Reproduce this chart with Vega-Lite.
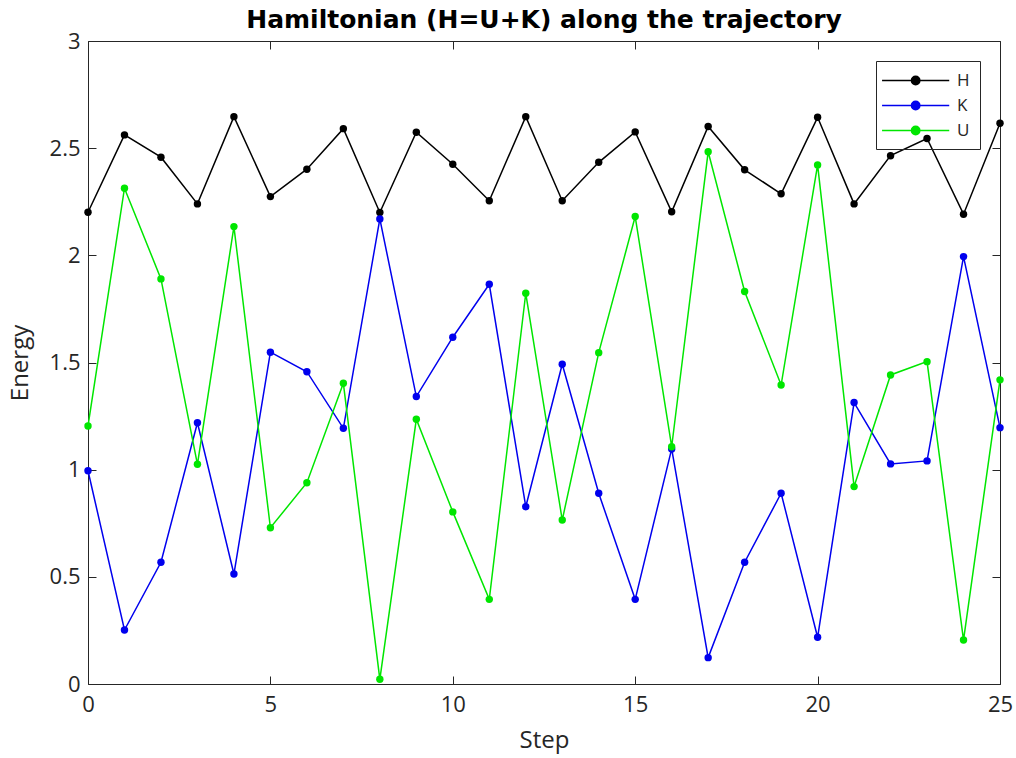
{
  "$schema": "https://vega.github.io/schema/vega-lite/v6.json",
  "width": 912,
  "height": 643,
  "autosize": "none",
  "padding": {"left": 88, "top": 41, "right": 16, "bottom": 74},
  "background": "white",
  "title": {"text": "Hamiltonian (H=U+K) along the trajectory", "font": "DejaVu Sans", "fontSize": 25, "fontWeight": "bold", "color": "#000000", "anchor": "middle", "offset": -3},
  "config": {
    "view": {"stroke": "#262626", "strokeWidth": 1},
    "axis": {"grid": false, "domain": false, "tickColor": "#262626", "tickSize": -8, "labelFlush": false, "labelFont": "Open Sans", "labelFontSize": 22, "labelColor": "#262626", "titleFont": "Open Sans", "titleFontSize": 24, "titleFontWeight": "normal", "titleColor": "#262626"}
  },
  "data": {"values": [
    {"step": 0, "series": "H", "value": 2.201}, {"step": 1, "series": "H", "value": 2.562}, {"step": 2, "series": "H", "value": 2.458}, {"step": 3, "series": "H", "value": 2.24}, {"step": 4, "series": "H", "value": 2.647}, {"step": 5, "series": "H", "value": 2.274}, {"step": 6, "series": "H", "value": 2.402}, {"step": 7, "series": "H", "value": 2.591}, {"step": 8, "series": "H", "value": 2.2}, {"step": 9, "series": "H", "value": 2.574}, {"step": 10, "series": "H", "value": 2.425}, {"step": 11, "series": "H", "value": 2.255}, {"step": 12, "series": "H", "value": 2.647}, {"step": 13, "series": "H", "value": 2.255}, {"step": 14, "series": "H", "value": 2.434}, {"step": 15, "series": "H", "value": 2.576}, {"step": 16, "series": "H", "value": 2.203}, {"step": 17, "series": "H", "value": 2.601}, {"step": 18, "series": "H", "value": 2.399}, {"step": 19, "series": "H", "value": 2.287}, {"step": 20, "series": "H", "value": 2.644}, {"step": 21, "series": "H", "value": 2.24}, {"step": 22, "series": "H", "value": 2.465}, {"step": 23, "series": "H", "value": 2.545}, {"step": 24, "series": "H", "value": 2.192}, {"step": 25, "series": "H", "value": 2.616},
    {"step": 0, "series": "K", "value": 0.995}, {"step": 1, "series": "K", "value": 0.252}, {"step": 2, "series": "K", "value": 0.568}, {"step": 3, "series": "K", "value": 1.219}, {"step": 4, "series": "K", "value": 0.513}, {"step": 5, "series": "K", "value": 1.548}, {"step": 6, "series": "K", "value": 1.457}, {"step": 7, "series": "K", "value": 1.193}, {"step": 8, "series": "K", "value": 2.17}, {"step": 9, "series": "K", "value": 1.341}, {"step": 10, "series": "K", "value": 1.618}, {"step": 11, "series": "K", "value": 1.865}, {"step": 12, "series": "K", "value": 0.827}, {"step": 13, "series": "K", "value": 1.492}, {"step": 14, "series": "K", "value": 0.89}, {"step": 15, "series": "K", "value": 0.395}, {"step": 16, "series": "K", "value": 1.097}, {"step": 17, "series": "K", "value": 0.123}, {"step": 18, "series": "K", "value": 0.568}, {"step": 19, "series": "K", "value": 0.89}, {"step": 20, "series": "K", "value": 0.218}, {"step": 21, "series": "K", "value": 1.313}, {"step": 22, "series": "K", "value": 1.027}, {"step": 23, "series": "K", "value": 1.041}, {"step": 24, "series": "K", "value": 1.994}, {"step": 25, "series": "K", "value": 1.196},
    {"step": 0, "series": "U", "value": 1.204}, {"step": 1, "series": "U", "value": 2.313}, {"step": 2, "series": "U", "value": 1.89}, {"step": 3, "series": "U", "value": 1.025}, {"step": 4, "series": "U", "value": 2.134}, {"step": 5, "series": "U", "value": 0.729}, {"step": 6, "series": "U", "value": 0.939}, {"step": 7, "series": "U", "value": 1.403}, {"step": 8, "series": "U", "value": 0.022}, {"step": 9, "series": "U", "value": 1.235}, {"step": 10, "series": "U", "value": 0.803}, {"step": 11, "series": "U", "value": 0.395}, {"step": 12, "series": "U", "value": 1.823}, {"step": 13, "series": "U", "value": 0.765}, {"step": 14, "series": "U", "value": 1.546}, {"step": 15, "series": "U", "value": 2.181}, {"step": 16, "series": "U", "value": 1.107}, {"step": 17, "series": "U", "value": 2.483}, {"step": 18, "series": "U", "value": 1.831}, {"step": 19, "series": "U", "value": 1.395}, {"step": 20, "series": "U", "value": 2.422}, {"step": 21, "series": "U", "value": 0.921}, {"step": 22, "series": "U", "value": 1.442}, {"step": 23, "series": "U", "value": 1.504}, {"step": 24, "series": "U", "value": 0.205}, {"step": 25, "series": "U", "value": 1.419}
  ]},
  "layer": [
    {
      "mark": {"type": "line", "strokeWidth": 1.5, "point": {"filled": true, "size": 55}},
      "encoding": {
        "x": {"field": "step", "type": "quantitative", "scale": {"domain": [0, 25], "nice": false}, "axis": {"title": "Step", "values": [0, 5, 10, 15, 20, 25], "labelPadding": 18, "titlePadding": 13}},
        "y": {"field": "value", "type": "quantitative", "scale": {"domain": [0, 3], "nice": false, "zero": false}, "axis": {"title": "Energy", "values": [0, 0.5, 1, 1.5, 2, 2.5, 3], "format": "~g", "labelPadding": 16, "titlePadding": 17}},
        "color": {"field": "series", "type": "nominal", "scale": {"domain": ["H", "K", "U"], "range": ["#000000", "#0000ee", "#00e600"]},
          "legend": {"title": null, "orient": "top-right", "offset": 20, "strokeColor": "#262626", "padding": 10, "rowPadding": 7, "symbolSize": 282, "symbolStrokeWidth": 1.5, "symbolType": "M-1.6,0H6.4M1.9,0A0.5,0.5 0 1,0 2.9,0A0.5,0.5 0 1,0 1.9,0Z", "labelOffset": 52, "labelFont": "Open Sans", "labelFontSize": 17, "labelColor": "#262626",
            "encode": {"symbols": {"update": {"fill": {"signal": "scale('color', datum.value)"}}}}}
        }
      }
    },
    {
      "mark": {"type": "line", "opacity": 0},
      "encoding": {
        "x": {"field": "step", "type": "quantitative", "axis": {"orient": "top", "title": null, "labels": false, "values": [0, 5, 10, 15, 20, 25]}},
        "y": {"field": "value", "type": "quantitative", "axis": {"orient": "right", "title": null, "labels": false, "values": [0, 0.5, 1, 1.5, 2, 2.5, 3]}}
      }
    }
  ],
  "resolve": {"axis": {"x": "independent", "y": "independent"}}
}
